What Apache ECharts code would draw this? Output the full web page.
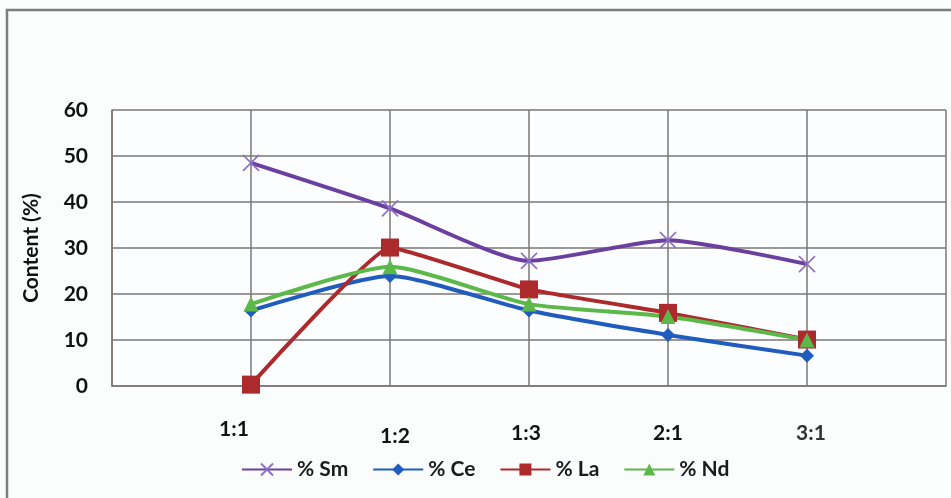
<!DOCTYPE html>
<html>
<head>
<meta charset="utf-8">
<style>
  html, body { margin: 0; padding: 0; background: #fbfcfc; }
  #chart { width: 951px; height: 498px; }
</style>
<script src="https://cdn.jsdelivr.net/npm/echarts@6/dist/echarts.min.js"></script>
</head>
<body>
<div id="chart"></div>
<script>
// Molar ratios on the x axis
const ratios = ['1:1', '1:2', '1:3', '2:1', '3:1'];

// Content (%) of each rare-earth element per ratio
const sm = [48.5, 38.6, 27.2, 31.7, 26.5];
const ce = [16.4, 23.9, 16.4, 11.1, 6.6];
const la = [0.3, 30.1, 21.0, 15.9, 10.1];
const nd = [17.8, 25.9, 17.8, 15.1, 10.0];

// Y axis ticks
const yTicks = [0, 10, 20, 30, 40, 50, 60];

// The category axis has an empty slot at each end so the ratios sit on inner grid lines
const cats = [''].concat(ratios, ['']);
const pad = arr => [null].concat(arr, [null]);

const FONT = 'Lato, "Open Sans", sans-serif';
const GRID = '#7b7774';

const crossPath = 'path://M0,0L10,10M10,0L0,10';

function lineSeries(name, data, color, symbol, size, extra) {
  return Object.assign({
    name: name,
    type: 'line',
    data: pad(data),
    smooth: 0.2,
    connectNulls: false,
    symbol: symbol,
    symbolSize: size,
    showSymbol: true,
    lineStyle: { color: color, width: 4 },
    itemStyle: { color: color }
  }, extra || {});
}

const labelStyle = { lineHeight: 22, fontFamily: FONT, fontSize: 21, fontWeight: 'bold', color: '#111' };
const rich = (padding, color) => Object.assign({}, labelStyle, { padding: padding }, color ? { color: color } : {});

const chart = echarts.init(document.getElementById('chart'), null, { renderer: 'canvas' });

chart.setOption({
  backgroundColor: '#fbfcfc',
  animation: false,
  graphic: [{
    type: 'rect',
    shape: { x: 7, y: 10, width: 980, height: 520 },
    style: { fill: 'none', stroke: '#7d7d7d', lineWidth: 2.5 },
    silent: true,
    z: -10
  }],
  grid: { left: 112, top: 110, right: 5, bottom: 112, containLabel: false,
          show: true, backgroundColor: '#fcfdfe', borderWidth: 0 },
  legend: {
    left: 236,
    top: 454,
    itemWidth: 50,
    itemHeight: 15,
    itemGap: 24,
    textStyle: { fontFamily: FONT, fontSize: 21, fontWeight: 'bold', color: '#1a1a1a' },
    data: ['% Sm', '% Ce', '% La', '% Nd']
  },
  xAxis: {
    type: 'category',
    data: cats,
    boundaryGap: false,
    axisLine: { show: true, lineStyle: { color: GRID, width: 1.5 } },
    axisTick: { show: false },
    splitLine: { show: true, lineStyle: { color: GRID, width: 1.5 } },
    axisLabel: {
      interval: 0,
      margin: 32,
      fontFamily: FONT,
      fontSize: 21,
      fontWeight: 'bold',
      color: '#111',
      formatter: (v, i) => v ? '{c' + i + '|' + v + '}' : '',
      rich: {
        c1: rich([0, 34, 0, 0]),
        c2: rich([14, 0, 0, 10]),
        c3: rich([8, 6, 0, 0]),
        c4: rich([8, 0, 0, 0]),
        c5: rich([8, 0, 0, 8], '#333')
      }
    }
  },
  yAxis: {
    type: 'value',
    min: yTicks[0],
    max: yTicks[yTicks.length - 1],
    interval: yTicks[1] - yTicks[0],
    name: 'Content (%)',
    nameLocation: 'middle',
    nameGap: 70,
    nameTextStyle: { fontFamily: FONT, fontSize: 21, fontWeight: 'bold', color: '#111' },
    axisLine: { show: true, lineStyle: { color: GRID, width: 1.5 } },
    axisTick: { show: false },
    splitLine: { show: true, lineStyle: { color: GRID, width: 1.5 } },
    axisLabel: { margin: 24, fontFamily: FONT, fontSize: 21, fontWeight: 'bold', color: '#111' }
  },
  series: [
    lineSeries('% Sm', sm, '#6b3fa0', crossPath, 16, {
      itemStyle: { color: 'rgba(0,0,0,0)', borderColor: '#8c70c4', borderWidth: 1.6 },
      lineStyle: { color: '#6b3fa0', width: 4 }
    }),
    lineSeries('% Ce', ce, '#1f5cbd', 'diamond', 14),
    lineSeries('% La', la, '#ad2a2c', 'rect', 18, { smooth: 0.1 }),
    lineSeries('% Nd', nd, '#5db84a', 'triangle', 15)
  ]
});
</script>
</body>
</html>
